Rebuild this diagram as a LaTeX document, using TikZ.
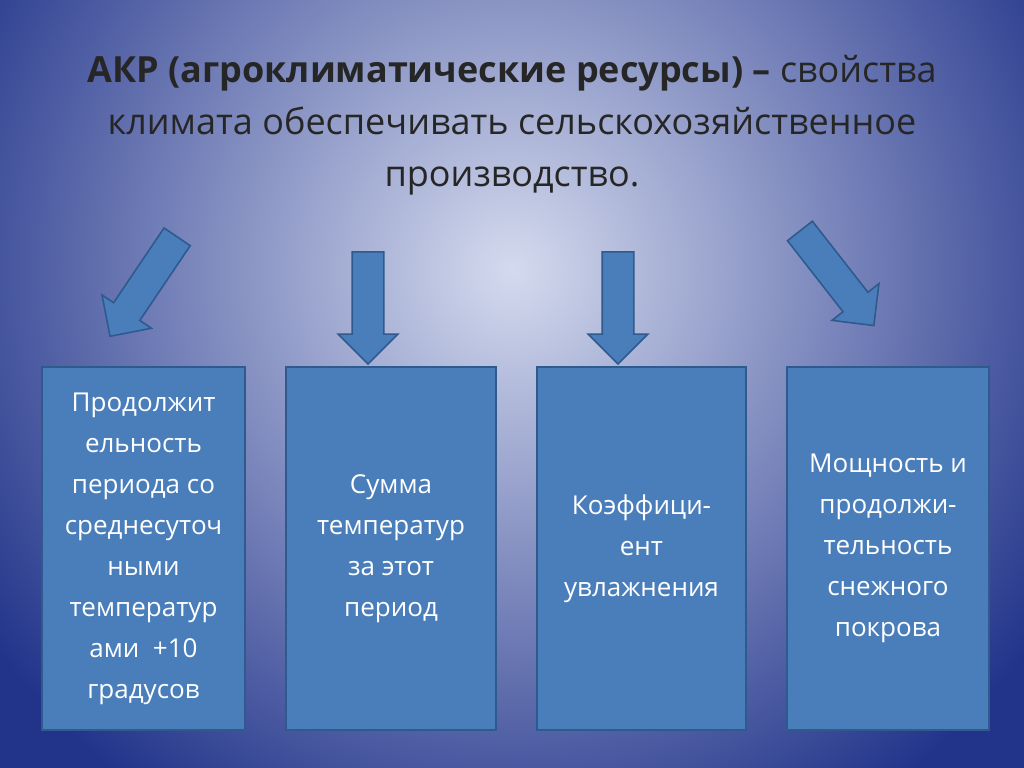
\documentclass[tikz,border=0pt]{standalone}
\usepackage{fontspec}
\setmainfont{Open Sans}
\usetikzlibrary{shapes.arrows}
\definecolor{bgdark}{HTML}{22348A}
\definecolor{bglight}{HTML}{D4DAEE}
\definecolor{boxblue}{HTML}{4A7EBB}
\definecolor{boxedge}{HTML}{2E5A8E}
\tikzset{
  infobox/.style={draw=boxedge, line width=0.8pt, fill=boxblue, text=white,
    font=\fontsize{13}{20.5}\selectfont, align=center},
  blockarrow/.style={single arrow, draw=boxedge, line width=0.8pt, fill=boxblue,
    minimum height=56pt, inner sep=7.5pt, single arrow head extend=7pt,
    single arrow head indent=0pt}
}
\begin{document}
\begin{tikzpicture}[x=0.5pt,y=-0.5pt]
\useasboundingbox (0,0) rectangle (1024,767);
\begin{scope}
\clip (-2,-2) rectangle (1026,769);
\fill[bgdark] (-2,-2) rectangle (1026,769);
\shade[inner color=bglight, outer color=bgdark] (512,270) circle (640);
\end{scope}
% title
\node[font=\fontsize{18}{26}\selectfont, text=black!85, align=center] (title) at (512,125)
  {\textbf{АКР (агроклиматические ресурсы) –} свойства\\
   климата обеспечивать сельскохозяйственное\\
   производство.};
% boxes
\node[infobox, minimum width=101.5pt, minimum height=181.5pt] (b1) at (143.5,548.5)
  {Продолжит\\ельность\\периода со\\среднесуточ\\ными\\температур\\ами \ +10\\градусов};
\node[infobox, minimum width=105pt, minimum height=181.5pt] (b2) at (391,548.5)
  {Сумма\\температур\\за этот\\период};
\node[infobox, minimum width=104.5pt, minimum height=181.5pt] (b3) at (641.5,548.5)
  {Коэффици-\\ент\\увлажнения};
\node[infobox, minimum width=101pt, minimum height=181.5pt] (b4) at (888,548.5)
  {Мощность и\\продолжи-\\тельность\\снежного\\покрова};
% arrows
\node[blockarrow, rotate=-124, minimum height=60pt] (a1) at (148,280) {};
\node[blockarrow, rotate=-90] (a2) at (368,300) {};
\node[blockarrow, rotate=-90] (a3) at (618,300) {};
\node[blockarrow, rotate=-52, minimum height=60pt] (a4) at (832,272) {};
\end{tikzpicture}
\end{document}
